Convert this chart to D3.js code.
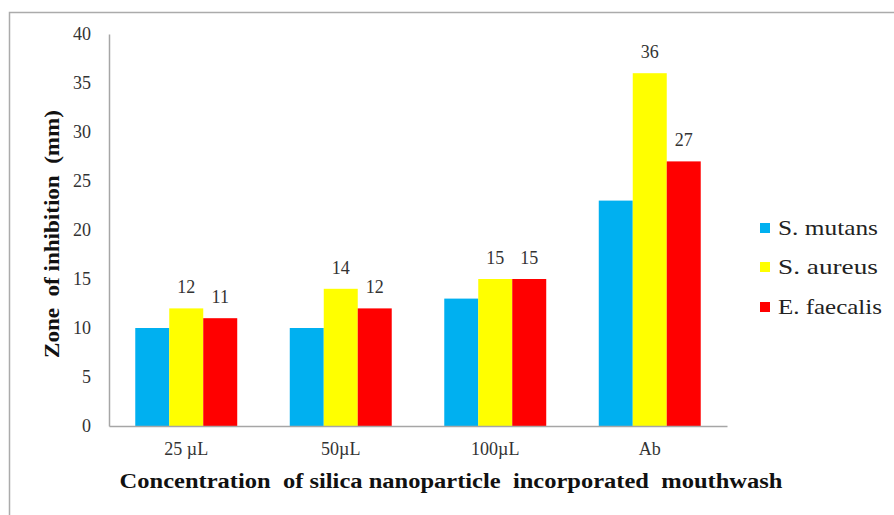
<!DOCTYPE html>
<html><head><meta charset="utf-8">
<script src="https://cdn.jsdelivr.net/npm/d3@7"></script>
<style>body{margin:0;background:#fff}svg{display:block}</style>
</head><body>
<script>
const categories = ["25 µL", "50µL", "100µL", "Ab"];
const seriesNames = ["S. mutans", "S. aureus", "E. faecalis"];
const sMutans = [10, 10, 13, 23];
const sAureus = [12, 14, 15, 36];
const eFaecalis = [11, 12, 15, 27];
const yTicks = [0, 5, 10, 15, 20, 25, 30, 35, 40];
const showLabel = [false, true, true];
const colors = ["#00B0F0", "#FFFF00", "#FF0000"];

const W = 894, H = 515;
const svg = d3.select("body").append("svg").attr("width", W).attr("height", H);
svg.append("rect").attr("x", 9.5).attr("y", 12.5).attr("width", 900).attr("height", 520)
  .attr("fill", "#fff").attr("stroke", "#ababab").attr("stroke-width", 1.5);

const m = {l: 109, r: 727, t: 34, b: 426};
const x0 = d3.scaleBand().domain(categories).range([m.l, m.r]).paddingInner(0.34).paddingOuter(0.17);
const x1 = d3.scaleBand().domain(seriesNames).range([0, x0.bandwidth()]);
const y = d3.scaleLinear().domain([0, 40]).range([m.b, m.t]);
const series = [sMutans, sAureus, eFaecalis];

const font = "Liberation Serif";

// horizontally stretch a text element to a target width
function fitWidth(sel, base, target) {
  const w = sel.node().getComputedTextLength();
  sel.attr("transform", `${base} scale(${target / w},1)`);
}

// bars
series.forEach((vals, si) => {
  const g = svg.append("g");
  g.selectAll("rect").data(vals).join("rect")
    .attr("x", (d, i) => x0(categories[i]) + x1(seriesNames[si]))
    .attr("y", d => y(d))
    .attr("width", x1.bandwidth())
    .attr("height", d => y(0) - y(d))
    .attr("fill", colors[si]);
  if (showLabel[si]) {
    g.selectAll("text").data(vals).join("text")
      .attr("x", (d, i) => x0(categories[i]) + x1(seriesNames[si]) + x1.bandwidth() / 2)
      .attr("y", d => y(d) - 15)
      .attr("text-anchor", "middle")
      .attr("font-family", font).attr("font-size", 18).attr("fill", "#333")
      .text(d => d);
  }
});

// y axis
const yAxis = d3.axisLeft(y).tickValues(yTicks).tickSize(0).tickPadding(18);
const gy = svg.append("g").attr("transform", `translate(${m.l},0)`).call(yAxis);
gy.attr("font-family", font).attr("font-size", 18);
gy.select(".domain").attr("stroke", "#a6a6a6").attr("stroke-width", 1.5);
gy.selectAll("text").attr("fill", "#333");

// x axis
const xAxis = d3.axisBottom(x0).tickSize(0).tickPadding(16);
const gx = svg.append("g").attr("transform", `translate(0,${m.b})`).call(xAxis);
gx.attr("font-family", font).attr("font-size", 18);
gx.select(".domain").attr("stroke", "#a6a6a6").attr("stroke-width", 1.5);
gx.selectAll("text").attr("fill", "#333");

// axis titles
const xt = svg.append("text").attr("text-anchor", "middle")
  .attr("font-family", font).attr("font-weight", "bold").attr("font-size", 21).attr("fill", "#111")
  .style("white-space", "pre")
  .text("Concentration  of silica nanoparticle  incorporated  mouthwash");
fitWidth(xt, "translate(451,488)", 663);

const yt = svg.append("text").attr("text-anchor", "middle")
  .attr("font-family", font).attr("font-weight", "bold").attr("font-size", 21).attr("fill", "#111")
  .style("white-space", "pre")
  .text("Zone  of inhibition  (mm)");
fitWidth(yt, "translate(59,234) rotate(-90)", 248);

// legend
const legendY = [228, 267, 307];
const lg = svg.append("g");
seriesNames.forEach((n, i) => {
  lg.append("rect").attr("x", 760).attr("y", legendY[i] - 5).attr("width", 10).attr("height", 10).attr("fill", colors[i]);
  const t = lg.append("text").attr("dy", "0.35em")
    .attr("font-family", font).attr("font-size", 21).attr("fill", "#222")
    .text(n);
  fitWidth(t, `translate(778,${legendY[i]})`, i === 2 ? 104 : 100);
});
</script>
</body></html>
